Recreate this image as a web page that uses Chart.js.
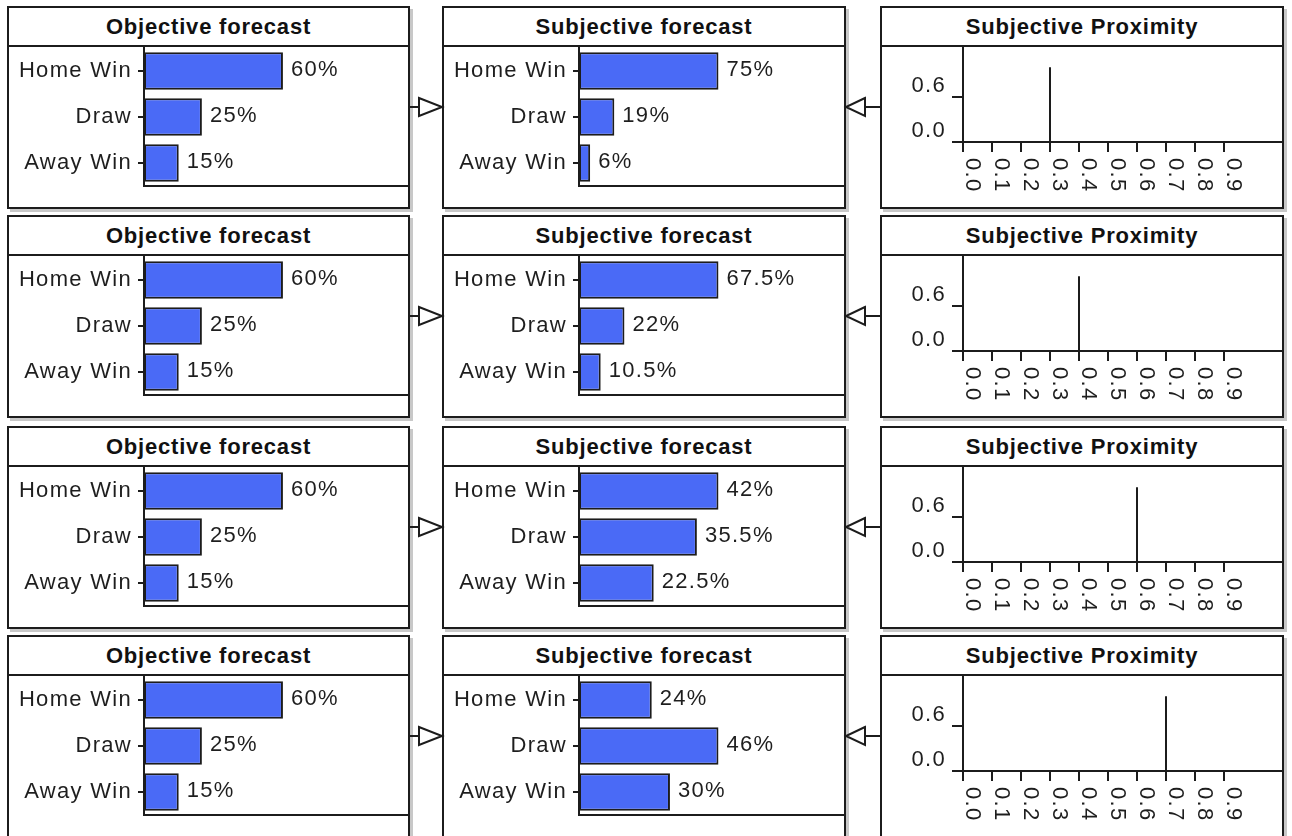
<!DOCTYPE html>
<html>
<head>
<meta charset="utf-8">
<title>Forecast panels</title>
<script src="https://cdn.jsdelivr.net/npm/chart.js@4.4.1/dist/chart.umd.min.js"></script>
<style>
  body { margin: 0; width: 1292px; height: 836px; overflow: hidden; position: relative; background: #fff;
         font-family: "Liberation Sans", Arial, sans-serif; }
  .panel { position: absolute; height: 199px; border: 2px solid #1c1c1c; background: #fff; box-shadow: 3px 3px 0 #c8c8c8; }
  .title { height: 37px; line-height: 37px; border-bottom: 2px solid #1c1c1c; text-align: center;
           font-weight: bold; font-size: 22px; letter-spacing: 0.8px; color: #111; }
  canvas { display: block; }
  #arrows { position: absolute; left: 0; top: 0; pointer-events: none; }
</style>
</head>
<body>
<svg id="arrows" width="1292" height="836"></svg>
<script>
// ---- data ----
const categories = ['Home Win', 'Draw', 'Away Win'];
const objectiveForecasts = [
  [60, 25, 15],
  [60, 25, 15],
  [60, 25, 15],
  [60, 25, 15],
];
const subjectiveForecasts = [
  [75, 19, 6],
  [67.5, 22, 10.5],
  [42, 35.5, 22.5],
  [24, 46, 30],
];
const proximityValues = [0.3, 0.4, 0.6, 0.7];
const proximityMass = [1, 1, 1, 1];
const proximityTicks = [0, 0.1, 0.2, 0.3, 0.4, 0.5, 0.6, 0.7, 0.8, 0.9];
const proximityYTicks = [0, 0.6];

// ---- look ----
const INK = '#1c1c1c';
const TEXT = '#1e1e1e';
const BAR = '#4a6af6';
const FONT = '"Liberation Sans", Arial, sans-serif';
const rowTops = [6, 215, 426, 635];
const columns = [
  { left: 7, width: 399, title: 'Objective forecast' },
  { left: 442, width: 400, title: 'Subjective forecast' },
  { left: 880, width: 400, title: 'Subjective Proximity' },
];

Chart.defaults.font.family = FONT;
Chart.defaults.font.size = 22;
Chart.defaults.color = TEXT;

const spacing = {
  id: 'spacing',
  beforeDraw(chart) { chart.ctx.letterSpacing = '1.3px'; },
};

const valueLabels = {
  id: 'valueLabels',
  afterDatasetsDraw(chart) {
    const ctx = chart.ctx;
    const values = chart.data.datasets[0].data;
    ctx.save();
    ctx.font = '22px ' + FONT;
    ctx.fillStyle = TEXT;
    ctx.textAlign = 'left';
    ctx.textBaseline = 'middle';
    chart.getDatasetMeta(0).data.forEach((bar, i) => {
      ctx.fillText(values[i] + '%', bar.x + 8, bar.y - 1);
    });
    ctx.restore();
  },
};

// x tick labels turned a quarter clockwise, read top to bottom
const rotatedTicks = {
  id: 'rotatedTicks',
  afterDraw(chart) {
    const s = chart.scales.x;
    const ctx = chart.ctx;
    ctx.save();
    ctx.font = '22px ' + FONT;
    ctx.fillStyle = TEXT;
    ctx.textAlign = 'left';
    ctx.textBaseline = 'alphabetic';
    s.ticks.forEach((t, i) => {
      ctx.save();
      ctx.translate(s.getPixelForTick(i) + 3, s.top + 16);
      ctx.rotate(Math.PI / 2);
      ctx.fillText(t.value.toFixed(1), 0, 0);
      ctx.restore();
    });
    ctx.restore();
  },
};

// vertical axes: fixed width, and no extra room above/below for half labels
function fixVertical(width) {
  return (s) => {
    s.width = width;
    s.paddingTop = 0;
    s.paddingBottom = 0;
  };
}

function makePanel(col, top) {
  const panel = document.createElement('div');
  panel.className = 'panel';
  panel.style.left = col.left + 'px';
  panel.style.top = top + 'px';
  panel.style.width = col.width + 'px';
  const title = document.createElement('div');
  title.className = 'title';
  title.textContent = col.title;
  const canvas = document.createElement('canvas');
  canvas.width = col.width;
  canvas.height = 160;
  panel.appendChild(title);
  panel.appendChild(canvas);
  document.body.appendChild(panel);
  return canvas;
}

function barChart(canvas, values) {
  return new Chart(canvas, {
    type: 'bar',
    data: {
      labels: categories,
      datasets: [{
        data: values,
        backgroundColor: BAR,
        borderColor: INK,
        borderWidth: 2,
        borderSkipped: false,
        barPercentage: 0.82,
        categoryPercentage: 1,
      }],
    },
    options: {
      indexAxis: 'y',
      responsive: false,
      animation: false,
      layout: { padding: { top: 1, right: 0, bottom: 0, left: 0 } },
      plugins: { legend: { display: false }, tooltip: { enabled: false } },
      scales: {
        x: {
          min: 0,
          max: Math.max(...values) * 1.9,
          ticks: { display: false },
          grid: { display: false },
          border: { color: INK, width: 2 },
          afterFit: (s) => { s.height = 21; },
        },
        y: {
          ticks: { color: TEXT, padding: 6 },
          grid: { drawOnChartArea: false, offset: false, tickLength: 6, color: INK, lineWidth: 2 },
          border: { color: INK, width: 2 },
          afterFit: fixVertical(135),
        },
      },
    },
    plugins: [spacing, valueLabels],
  });
}

function proximityChart(canvas, value, mass) {
  return new Chart(canvas, {
    type: 'scatter',
    data: {
      datasets: [{
        data: [{ x: value, y: 0 }, { x: value, y: mass }],
        showLine: true,
        borderColor: INK,
        borderWidth: 2,
        pointRadius: 0,
      }],
    },
    options: {
      responsive: false,
      animation: false,
      layout: { padding: 0 },
      plugins: { legend: { display: false }, tooltip: { enabled: false } },
      scales: {
        x: {
          type: 'linear',
          min: 0,
          max: 1.1,
          afterBuildTicks: (s) => { s.ticks = proximityTicks.map((v) => ({ value: v })); },
          ticks: { display: false },
          grid: { drawOnChartArea: false, tickLength: 10, color: INK, lineWidth: 2 },
          border: { color: INK, width: 2 },
          afterFit: (s) => { s.height = 65; },
        },
        y: {
          min: 0,
          max: 1.27,
          afterBuildTicks: (s) => { s.ticks = proximityYTicks.map((v) => ({ value: v })); },
          ticks: { color: TEXT, padding: 6, labelOffset: -11, callback: (v) => v.toFixed(1) },
          grid: { drawOnChartArea: false, tickLength: 11, color: INK, lineWidth: 2 },
          border: { color: INK, width: 2 },
          afterFit: fixVertical(81),
        },
      },
    },
    plugins: [spacing, rotatedTicks],
  });
}

// connector arrows between the panels
const svg = document.getElementById('arrows');
let arrows = '';
rowTops.forEach((t) => {
  const y = t + 101;
  arrows += `<line x1="410" y1="${y}" x2="419" y2="${y}" stroke="${INK}" stroke-width="2"/>`;
  arrows += `<polygon points="419,${y - 9} 442,${y} 419,${y + 9}" fill="#fff" stroke="${INK}" stroke-width="2"/>`;
  arrows += `<line x1="865" y1="${y}" x2="880" y2="${y}" stroke="${INK}" stroke-width="2"/>`;
  arrows += `<polygon points="865,${y - 9} 846,${y} 865,${y + 9}" fill="#fff" stroke="${INK}" stroke-width="2"/>`;
});
svg.innerHTML = arrows;

rowTops.forEach((top, r) => {
  barChart(makePanel(columns[0], top), objectiveForecasts[r]);
  barChart(makePanel(columns[1], top), subjectiveForecasts[r]);
  proximityChart(makePanel(columns[2], top), proximityValues[r], proximityMass[r]);
});
document.body.appendChild(svg);
</script>
</body>
</html>
